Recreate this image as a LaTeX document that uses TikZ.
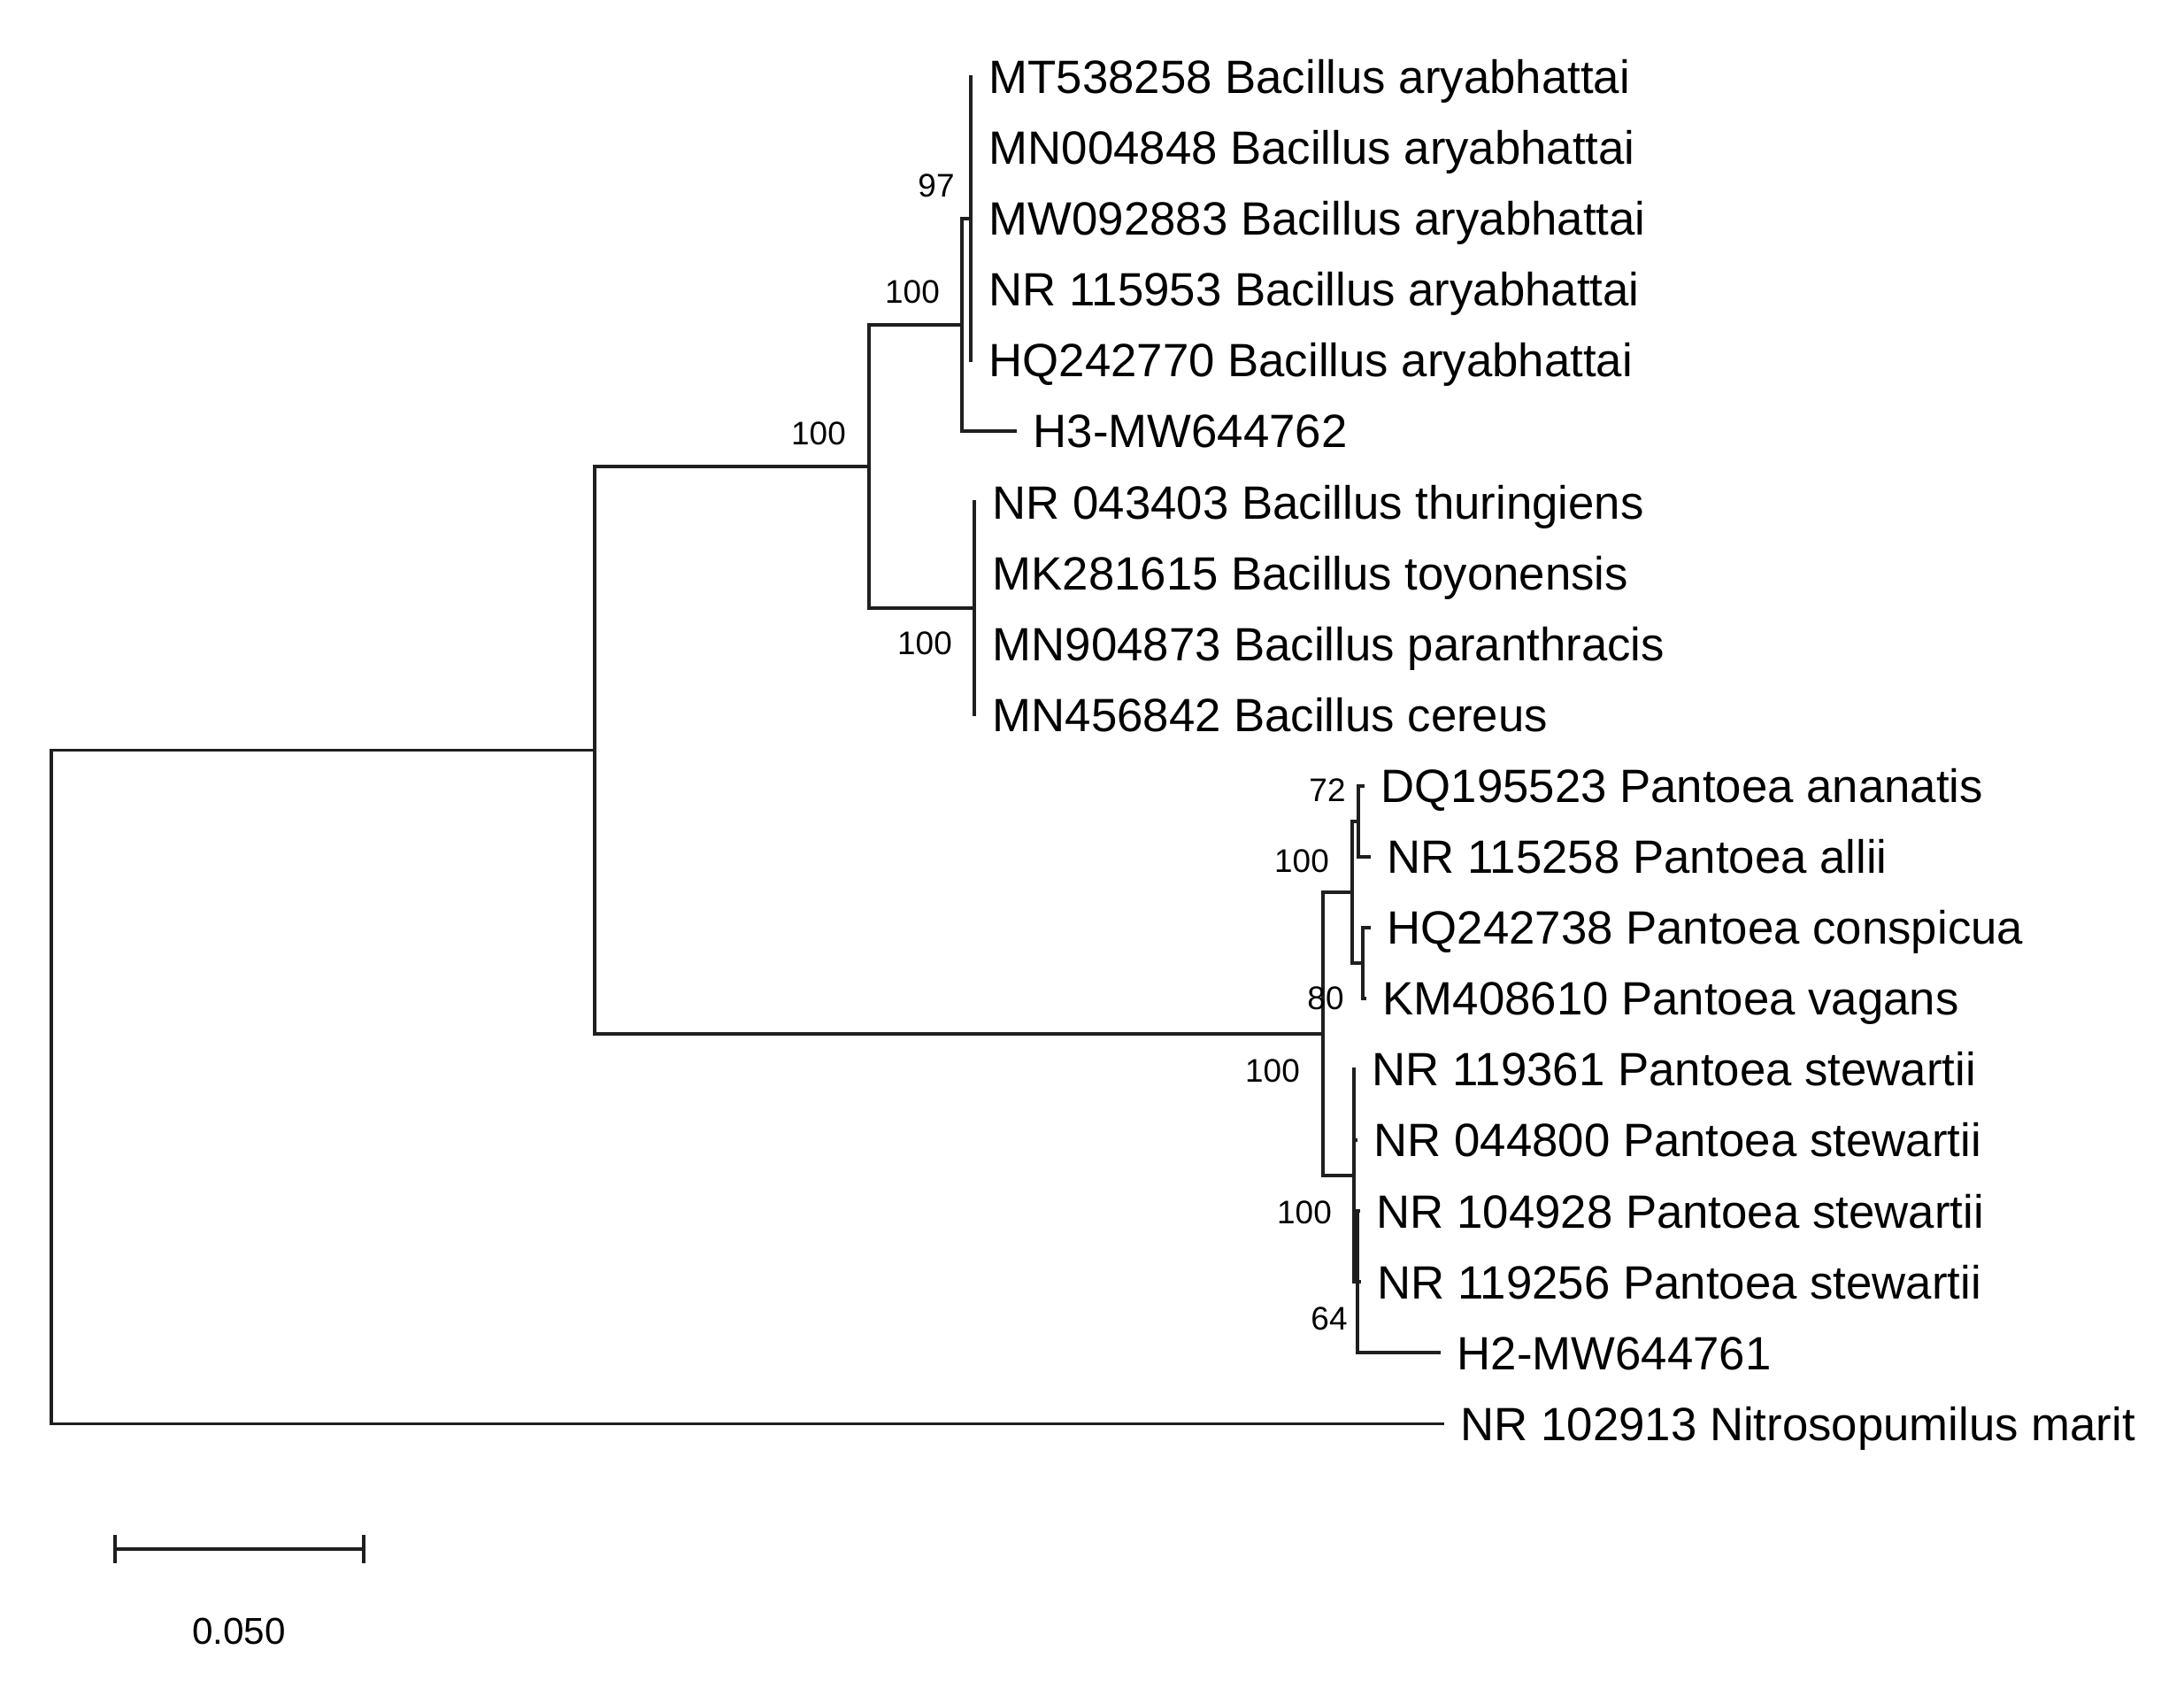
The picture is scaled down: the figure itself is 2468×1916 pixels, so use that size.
\documentclass[tikz,border=0pt]{standalone}
\usepackage{fontspec}
\setmainfont{Liberation Sans}
\begin{document}
\begin{tikzpicture}[x=0.01cm,y=-0.01cm,
  br/.style={line width=1.1pt, color=black!88, line cap=rect},
  leaf/.style={anchor=west, inner xsep=0.2cm, inner ysep=0pt, font=\fontsize{15pt}{18pt}\selectfont, text height=10.7pt, text depth=0pt},
  bs/.style={inner sep=0pt, font=\fontsize{10.5pt}{12pt}\selectfont}]
\useasboundingbox (0,0) rectangle (2468,1916);

% leaves
\node[leaf] (l1)  at (1097,86.6)   {MT538258 Bacillus aryabhattai};
\node[leaf] (l2)  at (1097,166.7)  {MN004848 Bacillus aryabhattai};
\node[leaf] (l3)  at (1097,246.8)  {MW092883 Bacillus aryabhattai};
\node[leaf] (l4)  at (1097,326.9)  {NR 115953 Bacillus aryabhattai};
\node[leaf] (l5)  at (1097,407.0)  {HQ242770 Bacillus aryabhattai};
\node[leaf] (l6)  at (1147,487.1)  {H3-MW644762};
\node[leaf] (l7)  at (1101,567.2)  {NR 043403 Bacillus thuringiens};
\node[leaf] (l8)  at (1101,647.3)  {MK281615 Bacillus toyonensis};
\node[leaf] (l9)  at (1101,727.4)  {MN904873 Bacillus paranthracis};
\node[leaf] (l10) at (1101,807.5)  {MN456842 Bacillus cereus};
\node[leaf] (l11) at (1540,887.6)  {DQ195523 Pantoea ananatis};
\node[leaf] (l12) at (1547,967.7)  {NR 115258 Pantoea allii};
\node[leaf] (l13) at (1547,1047.8) {HQ242738 Pantoea conspicua};
\node[leaf] (l14) at (1542,1127.9) {KM408610 Pantoea vagans};
\node[leaf] (l15) at (1530,1208.0) {NR 119361 Pantoea stewartii};
\node[leaf] (l16) at (1532,1288.1) {NR 044800 Pantoea stewartii};
\node[leaf] (l17) at (1535,1368.2) {NR 104928 Pantoea stewartii};
\node[leaf] (l18) at (1536,1448.3) {NR 119256 Pantoea stewartii};
\node[leaf] (l19) at (1626,1528.4) {H2-MW644761};
\node[leaf] (l20) at (1630,1608.5) {NR 102913 Nitrosopumilus marit};

% internal nodes
\coordinate (n1)  at (1097,246.8);
\coordinate (n2)  at (1087,366.9);
\coordinate (n3)  at (1101,687.35);
\coordinate (n4)  at (982,527.1);
\coordinate (n5)  at (1535,927.65);
\coordinate (n6)  at (1540,1087.85);
\coordinate (n7)  at (1528,1007.75);
\coordinate (n8)  at (1534,1448.3);
\coordinate (n9)  at (1530,1328.15);
\coordinate (n10) at (1495,1167.95);
\coordinate (n11) at (672,847.5);
\coordinate (root) at (58,1228);

% branches
\foreach \c in {l1,l2,l3,l4,l5} \draw[br] (n1) |- (\c.west);
\draw[br] (n2) |- (n1);
\draw[br] (n2) |- (l6.west);
\foreach \c in {l7,l8,l9,l10} \draw[br] (n3) |- (\c.west);
\draw[br] (n4) |- (n2);
\draw[br] (n4) |- (n3);
\draw[br] (n5) |- (l11.west);
\draw[br] (n5) |- (l12.west);
\draw[br] (n6) |- (l13.west);
\draw[br] (n6) |- (l14.west);
\draw[br] (n7) |- (n5);
\draw[br] (n7) |- (n6);
\foreach \c in {l17,l18,l19} \draw[br] (n8) |- (\c.west);
\draw[br] (n9) |- (l15.west);
\draw[br] (n9) |- (l16.west);
\draw[br] (n9) |- (n8);
\draw[br] (n10) |- (n7);
\draw[br] (n10) |- (n9);
\draw[br] (n11) |- (n4);
\draw[br] (n11) |- (n10);
\draw[br] (root) |- (n11);
\draw[br] (root) |- (l20.west);

% bootstrap values
\node[bs] (b1)  at (1058,210)  {97};
\node[bs] (b2)  at (1031,330)  {100};
\node[bs] (b3)  at (925,490)   {100};
\node[bs] (b4)  at (1045,727)  {100};
\node[bs] (b5)  at (1500,893)  {72};
\node[bs] (b6)  at (1471,973)  {100};
\node[bs] (b7)  at (1498,1128) {80};
\node[bs] (b8)  at (1438,1210) {100};
\node[bs] (b9)  at (1474,1370) {100};
\node[bs] (b10) at (1502,1490) {64};

% scale bar
\coordinate (sbL) at (130,1750);
\coordinate (sbR) at (411,1750);
\draw[br] (sbL) -- (sbR);
\draw[br] (sbL) ++(0,-14) -- ++(0,28);
\draw[br] (sbR) ++(0,-14) -- ++(0,28);
\node[inner sep=0pt, font=\fontsize{12pt}{14pt}\selectfont] (sblab) at (270,1843) {0.050};
\end{tikzpicture}
\end{document}
